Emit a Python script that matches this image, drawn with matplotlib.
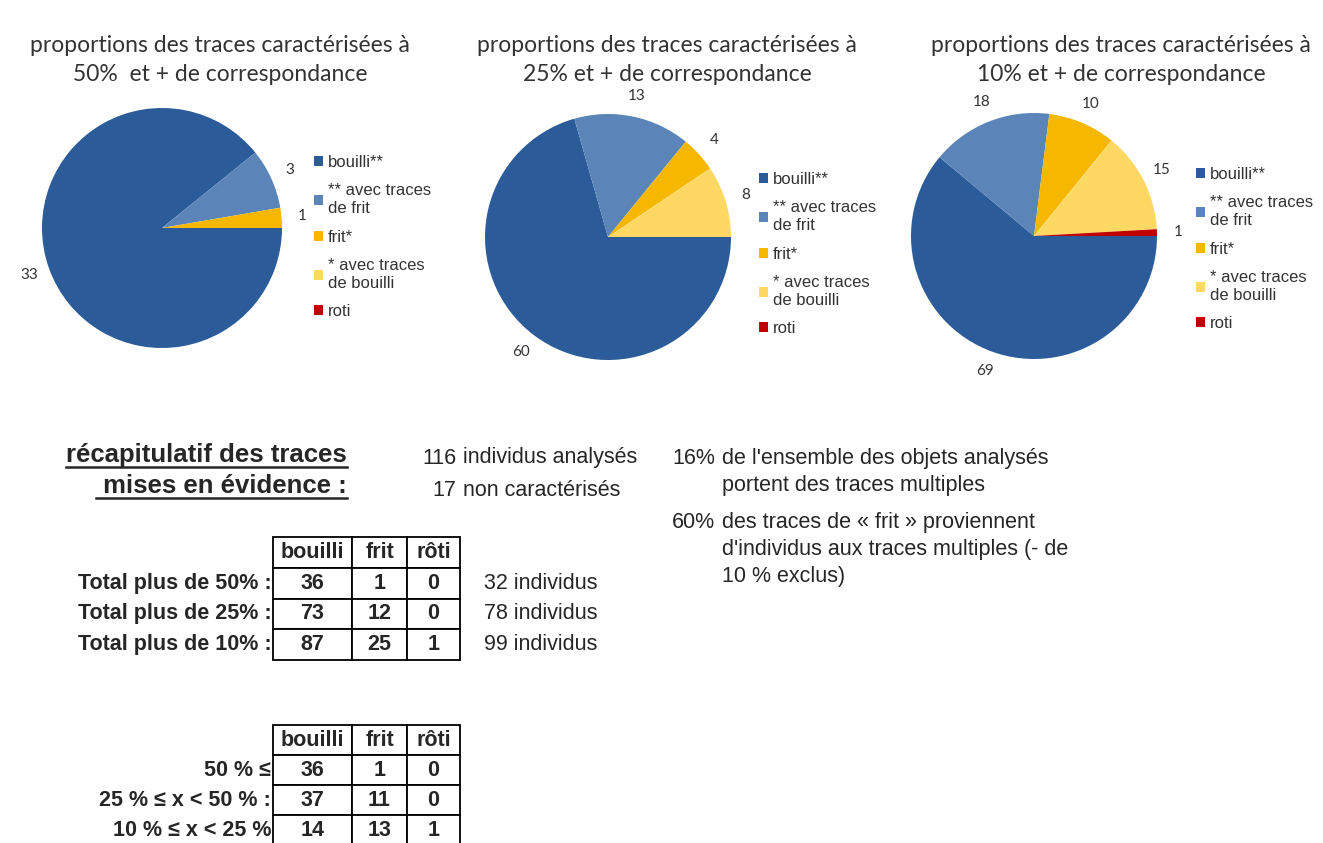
import matplotlib
matplotlib.use("Agg")
import matplotlib.pyplot as plt
from matplotlib.patches import Patch
from matplotlib.lines import Line2D
import numpy as np

# data
categories = ["bouilli**", "** avec traces\nde frit", "frit*", "* avec traces\nde bouilli", "roti"]
counts_50 = [33, 3, 1, 0, 0]
counts_25 = [60, 13, 4, 8, 0]
counts_10 = [69, 18, 10, 15, 1]
pie_titles = [
    "proportions des traces caractérisées à\n50%  et + de correspondance",
    "proportions des traces caractérisées à\n25% et + de correspondance",
    "proportions des traces caractérisées à\n10% et + de correspondance",
]
colors = ["#2B5C99", "#5B85B8", "#F5B700", "#FDD862", "#C00000"]

table_cols = ["bouilli", "frit", "rôti"]
totals_rows = ["Total plus de 50% :", "Total plus de 25% :", "Total plus de 10% :"]
totals_vals = [[36, 1, 0], [73, 12, 0], [87, 25, 1]]
totals_individus = [32, 78, 99]
range_rows = ["50 % ≤", "25 % ≤ x < 50 % :", "10 % ≤ x < 25 %"]
range_vals = [[36, 1, 0], [37, 11, 0], [14, 13, 1]]

n_analyses = 116
n_non_caract = 17
pct_multiples = 16
pct_frit_multiples = 60

ARIAL = ["Liberation Sans", "DejaVu Sans"]
TITLEF = ["Lato", "DejaVu Sans"]
plt.rcParams["font.family"] = ARIAL
TXT = "#262626"

W, H = 1323, 843
fig = plt.figure(figsize=(W / 100, H / 100), dpi=100)
fig.patch.set_facecolor("white")


def px_axes(left, top, width, height):
    return fig.add_axes([left / W, 1 - (top + height) / H, width / W, height / H])


def fx(x):
    return x / W


def fy(y):
    return 1 - y / H


# ---------------- pies ----------------
pie_geom = [(162, 228, 120), (608, 237, 123), (1034, 236, 123)]
title_x = [220, 667, 1121]
legend_pos = [(314, 155), (759, 172), (1196, 167)]
all_counts = [counts_50, counts_25, counts_10]

for k, counts in enumerate(all_counts):
    cx, cy, r = pie_geom[k]
    lim = 1.45
    ax = px_axes(cx - lim * r, cy - lim * r, 2 * lim * r, 2 * lim * r)
    wedges, _ = ax.pie(counts, colors=colors, startangle=0, counterclock=False,
                       radius=1, wedgeprops=dict(linewidth=0))
    ax.set_xlim(-lim, lim)
    ax.set_ylim(-lim, lim)
    ax.set_aspect("equal")
    ax.axis("off")
    for w, v in zip(wedges, counts):
        if v == 0:
            continue
        ang = np.deg2rad((w.theta1 + w.theta2) / 2)
        ax.text(1.17 * np.cos(ang), 1.17 * np.sin(ang), str(v), ha="center", va="center",
                fontsize=11, family=TITLEF, color="#333333")

    fig.text(fx(title_x[k]), fy(60), pie_titles[k], ha="center", va="center",
             fontsize=16.5, family=TITLEF, color="#333333", linespacing=1.45)

    handles = [Patch(facecolor=c, edgecolor="none") for c in colors]
    lx, ly = legend_pos[k]
    leg = fig.legend(handles, categories, loc="upper left", bbox_to_anchor=(fx(lx), fy(ly)),
                     frameon=False, prop=dict(family=ARIAL, size=12),
                     handlelength=0.55, handleheight=0.55, handletextpad=0.3,
                     labelspacing=0.8, borderpad=0, borderaxespad=0, labelcolor="#333333")
    for t in leg.get_texts():
        t.set_linespacing(1.25)

# ---------------- summary texts ----------------
head_fs = 18.5
head1 = fig.text(fx(347), fy(462), "récapitulatif des traces", ha="right", va="baseline",
                 fontsize=head_fs, fontweight="bold", color=TXT)
head2 = fig.text(fx(347), fy(493), " mises en évidence :", ha="right", va="baseline",
                 fontsize=head_fs, fontweight="bold", color=TXT)

renderer = fig.canvas.get_renderer()
for t in (head1, head2):
    bb = t.get_window_extent(renderer=renderer)
    ybase = t.get_position()[1]
    yline = ybase - 5 / H
    fig.add_artist(Line2D([bb.x0 / W, bb.x1 / W], [yline, yline],
                          color=TXT, linewidth=1.8))

fs = 15.5
fig.text(fx(456), fy(458), str(n_analyses), ha="right", va="center", fontsize=fs, color=TXT)
fig.text(fx(463), fy(458), "individus analysés", ha="left", va="center", fontsize=fs, color=TXT)
fig.text(fx(456), fy(490), str(n_non_caract), ha="right", va="center", fontsize=fs, color=TXT)
fig.text(fx(463), fy(490), "non caractérisés", ha="left", va="center", fontsize=fs, color=TXT)

fig.text(fx(715), fy(458), f"{pct_multiples}%", ha="right", va="center", fontsize=fs, color=TXT)
fig.text(fx(722), fy(448), "de l'ensemble des objets analysés\nportent des traces multiples",
         ha="left", va="top", fontsize=fs, color=TXT, linespacing=1.35)
fig.text(fx(715), fy(522), f"{pct_frit_multiples}%", ha="right", va="center", fontsize=fs, color=TXT)
fig.text(fx(722), fy(512), "des traces de « frit » proviennent\nd'individus aux traces multiples (- de\n10 % exclus)",
         ha="left", va="top", fontsize=fs, color=TXT, linespacing=1.36)


# ---------------- tables ----------------
col_w = np.array([79, 55, 53], dtype=float)
tab_fs = 15.5


def draw_table(top, row_h, row_labels, values):
    nrows = len(values) + 1
    ax = px_axes(273, top, col_w.sum(), row_h * nrows)
    ax.axis("off")
    cell_text = [[str(v) for v in row] for row in values]
    tb = ax.table(cellText=cell_text, colLabels=table_cols, colWidths=list(col_w / col_w.sum()),
                  cellLoc="center", bbox=[0, 0, 1, 1])
    tb.auto_set_font_size(False)
    for (i, j), cell in tb.get_celld().items():
        cell.set_linewidth(1.3)
        cell.set_edgecolor("black")
        cell.get_text().set_fontsize(tab_fs)
        cell.get_text().set_fontweight("bold")
        cell.get_text().set_color(TXT)
    for i, lab in enumerate(row_labels):
        yc = 1 - (i + 1.5) / nrows
        ax.text(-0.01, yc, lab, transform=ax.transAxes, ha="right", va="center",
                fontsize=tab_fs, fontweight="bold", color=TXT)
    return ax, nrows


ax1, n1 = draw_table(537, 30.75, totals_rows, totals_vals)
for i, n in enumerate(totals_individus):
    yc = 1 - (i + 1.5) / n1
    ax1.text(1.13, yc, f"{n} individus", transform=ax1.transAxes, ha="left", va="center",
             fontsize=fs, color=TXT)

draw_table(725, 30, range_rows, range_vals)

fig.savefig("out.png", dpi=100, facecolor="white")
